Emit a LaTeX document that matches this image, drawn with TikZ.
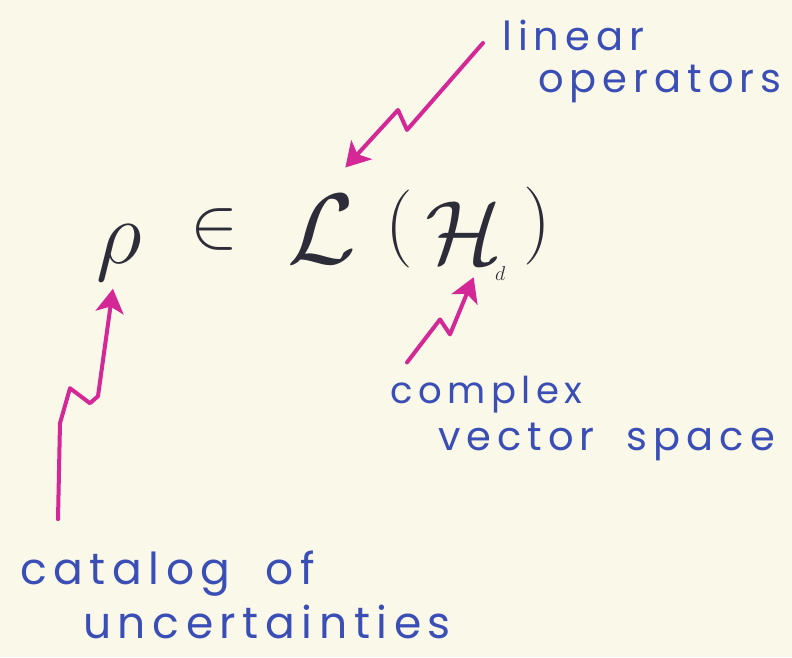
\RequirePackage{fix-cm}
\documentclass[tikz,border=0pt]{standalone}
\usepackage{fontspec}
\newfontfamily\handfont[LetterSpace=15]{Poppins}
\usetikzlibrary{arrows.meta}

\definecolor{paper}{RGB}{250,248,233}
\definecolor{pen}{RGB}{45,45,58}
\definecolor{ink}{RGB}{58,78,182}
\definecolor{marker}{RGB}{212,40,150}

\newcommand{\gap}{\hspace{0.8em}}

\begin{document}
\begin{tikzpicture}[
    x=1pt, y=-1pt,
    sym/.style={inner sep=0pt, text=pen},
    note/.style={inner sep=0pt, anchor=base west, text=ink,
                 font=\handfont\fontsize{40}{40}\selectfont},
    bignote/.style={note, font=\handfont\fontsize{44}{44}\selectfont},
    zig/.style={draw=marker, line width=4pt, line join=round, line cap=round,
                -{Stealth[length=24pt, width=28pt, inset=6pt]}},
]
    \fill[paper] (0,0) rectangle (792,657);

    % Formula
    \node[sym, anchor=base west, font=\fontsize{90}{90}\selectfont] (rho) at (96,263) {$\rho$};
    \node[sym, font=\fontsize{72}{72}\selectfont] (elem) at (214,229) {$\in$};
    \node[sym, anchor=base west, font=\fontsize{100}{100}\selectfont] (lin) at (287,263) {$\mathcal{L}$};
    \node[sym, font=\fontsize{78}{78}\selectfont] (lpar) at (399,229) {$($};
    \node[sym, anchor=base west, font=\fontsize{90}{90}\selectfont] (hilb) at (425,263) {$\mathcal{H}$};
    \node[sym, anchor=base west, font=\fontsize{20}{20}\selectfont] (dim) at (495,280) {$d$};
    \node[sym, font=\fontsize{78}{78}\selectfont] (rpar) at (537,226) {$)$};

    % Labels
    \node[note] (linear) at (502,50) {linear};
    \node[note] (operators) at (538,92) {operators};
    \node[note, font=\handfont\fontsize{37}{37}\selectfont] (complex) at (390,403) {complex};
    \node[note] (vector) at (438,450) {vector\gap space};
    \node[bignote] (catalog) at (20,584) {catalog\gap of};
    \node[bignote] (uncert) at (83,638) {uncertainties};

    % Pointers
    \draw[zig] ([shift={(-19,8)}]linear.west) -- ++(-76,87) -- ++(-9,-20)
        -- ([shift={(-11,-27)}]lin.north east);
    \draw[zig] ([shift={(17,-13)}]complex.north west) -- ++(33,-43) -- ++(10,15)
        -- ([shift={(10,14)}]hilb.south);
    \draw[zig] ([shift={(38,-31)}]catalog.north west) -- ++(2,-96) -- ++(10,-35)
        -- ++(20,15) -- ++(8,-7) -- ([shift={(-6,8)}]rho.south);
\end{tikzpicture}
\end{document}
